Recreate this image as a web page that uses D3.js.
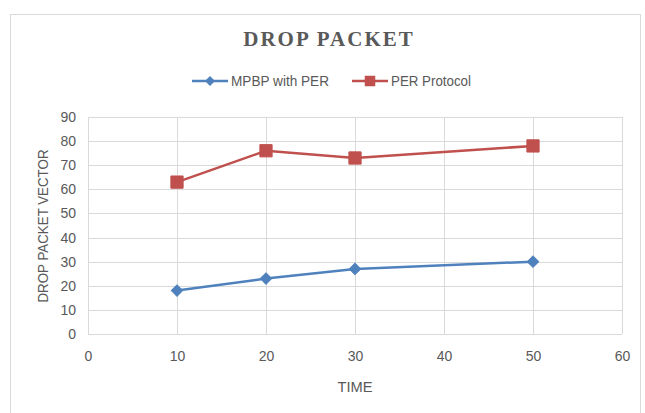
<!DOCTYPE html>
<html>
<head>
<meta charset="utf-8">
<script src="https://cdn.jsdelivr.net/npm/d3@7"></script>
<style>
  body { margin: 0; background: #fff; }
  svg { display: block; }
</style>
</head>
<body>
<svg id="chart" width="645" height="413"></svg>
<script>
"use strict";

// DATA
const times = [10, 20, 30, 50];
const mpbpValues = [18, 23, 27, 30];
const perValues = [63, 76, 73, 78];
const seriesNames = ["MPBP with PER", "PER Protocol"];
const xTicks = [0, 10, 20, 30, 40, 50, 60];
const yTicks = [0, 10, 20, 30, 40, 50, 60, 70, 80, 90];

const colors = ["#4F81BD", "#C0504D"];
const textColor = "#595959";
const gridColor = "#d9d9d9";
const tickFont = "Liberation Sans, Arial, sans-serif";

const svg = d3.select("#chart");

// chart frame
svg.append("rect")
	.attr("x", 10.5).attr("y", 14.5)
	.attr("width", 630).attr("height", 420)
	.attr("fill", "#fff")
	.attr("stroke", "#d9d9d9");

const x = d3.scaleLinear().domain([0, 60]).range([88, 622]);
const y = d3.scaleLinear().domain([0, 90]).range([334, 117]);

// gridlines
svg.append("g")
	.selectAll("line")
	.data(yTicks)
	.join("line")
	.attr("x1", x(0)).attr("x2", x(60))
	.attr("y1", (d) => Math.round(y(d)) + 0.5)
	.attr("y2", (d) => Math.round(y(d)) + 0.5)
	.attr("stroke", gridColor);

svg.append("g")
	.selectAll("line")
	.data(xTicks)
	.join("line")
	.attr("y1", y(0)).attr("y2", y(90))
	.attr("x1", (d) => Math.round(x(d)) + 0.5)
	.attr("x2", (d) => Math.round(x(d)) + 0.5)
	.attr("stroke", gridColor);

// axes (labels only)
const xAxis = svg.append("g")
	.attr("transform", `translate(0,${y(0) + 14})`)
	.call(d3.axisBottom(x).tickValues(xTicks).tickSize(0));
const yAxis = svg.append("g")
	.attr("transform", `translate(${x(0) - 9},0)`)
	.call(d3.axisLeft(y).tickValues(yTicks).tickSize(0));
[xAxis, yAxis].forEach((a) => {
	a.select(".domain").remove();
	a.selectAll("text")
		.attr("fill", textColor)
		.style("font-family", tickFont)
		.style("font-size", "14px");
});

// axis titles
svg.append("text")
	.attr("x", 355).attr("y", 392)
	.attr("text-anchor", "middle")
	.attr("fill", textColor)
	.style("font-family", tickFont)
	.style("font-size", "14px")
	.attr("textLength", 35)
	.attr("lengthAdjust", "spacingAndGlyphs")
	.text("TIME");

svg.append("text")
	.attr("transform", "translate(48,226) rotate(-90)")
	.attr("text-anchor", "middle")
	.attr("fill", textColor)
	.style("font-family", tickFont)
	.style("font-size", "14px")
	.attr("textLength", 153)
	.attr("lengthAdjust", "spacingAndGlyphs")
	.text("DROP PACKET VECTOR");

// title
svg.append("text")
	.attr("x", 329).attr("y", 46)
	.attr("text-anchor", "middle")
	.attr("fill", textColor)
	.style("font-family", "Liberation Serif, Times New Roman, serif")
	.style("font-weight", "bold")
	.style("font-size", "21px")
	.style("letter-spacing", "2px")
	.text("DROP PACKET");

// marker shapes: diamond is a square turned 45 degrees
function marker(s, big) {
	const size = s === 0 ? (big ? 64 : 50) : (big ? 150 : 110);
	return d3.symbol().type(d3.symbolSquare).size(size)();
}
const markerRot = (s) => (s === 0 ? " rotate(45)" : "");

// series
const series = [mpbpValues, perValues];
const line = d3.line()
	.x((d, i) => x(times[i]))
	.y((d) => y(d));

series.forEach((vals, s) => {
	svg.append("path")
		.datum(vals)
		.attr("d", line)
		.attr("fill", "none")
		.attr("stroke", colors[s])
		.attr("stroke-width", 2.5);
	svg.append("g")
		.selectAll("path")
		.data(vals)
		.join("path")
		.attr("transform", (d, i) => `translate(${x(times[i])},${y(d)})` + markerRot(s))
		.attr("d", marker(s, true))
		.attr("fill", colors[s])
		.attr("stroke", colors[s]);
});

// legend
const legendItems = [
	{ x1: 192, name: seriesNames[0], w: 98 },
	{ x1: 352, name: seriesNames[1], w: 80 },
];
legendItems.forEach((item, s) => {
	const g = svg.append("g").attr("transform", `translate(${item.x1},81)`);
	g.append("line")
		.attr("x1", 0).attr("x2", 36)
		.attr("stroke", colors[s])
		.attr("stroke-width", 2.5);
	g.append("path")
		.attr("transform", "translate(18,0)" + markerRot(s))
		.attr("d", marker(s, false))
		.attr("fill", colors[s]);
	g.append("text")
		.attr("x", 39).attr("y", 5)
		.attr("fill", textColor)
		.style("font-family", tickFont)
		.style("font-size", "14px")
		.attr("textLength", item.w)
		.attr("lengthAdjust", "spacingAndGlyphs")
		.text(item.name);
});
</script>
</body>
</html>
